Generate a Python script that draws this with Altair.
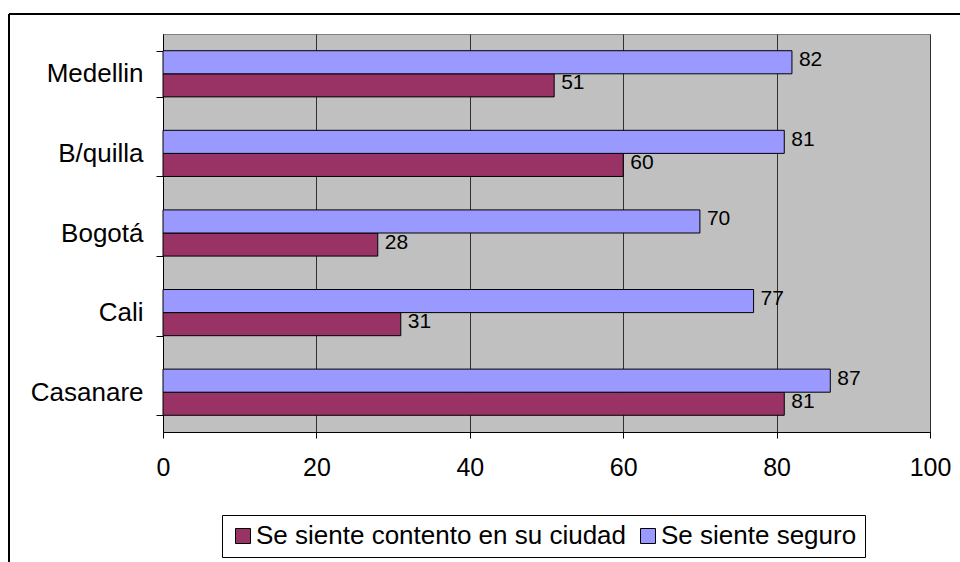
import altair as alt
import pandas as pd

cities = ["Medellin", "B/quilla", "Bogotá", "Cali", "Casanare"]
contento = [51, 60, 28, 31, 81]
seguro = [82, 81, 70, 77, 87]
series_names = ["Se siente contento en su ciudad", "Se siente seguro"]
x_ticks = [0, 20, 40, 60, 80, 100]

rows = []
for c, a, b in zip(cities, contento, seguro):
    rows.append({"ciudad": c, "serie": series_names[0], "valor": a})
    rows.append({"ciudad": c, "serie": series_names[1], "valor": b})
df = pd.DataFrame(rows)

FONT = "Liberation Sans"

y_enc = alt.Y(
    "ciudad:N",
    sort=cities,
    title=None,
    scale=alt.Scale(paddingInner=0.42, paddingOuter=0.21),
    axis=alt.Axis(
        tickBand="extent",
        tickSize=7,
        tickColor="black",
        domainColor="black",
        labelFontSize=26,
        labelFont=FONT,
        labelColor="black",
        labelPadding=13,
        grid=False,
    ),
)
x_enc = alt.X(
    "valor:Q",
    title=None,
    scale=alt.Scale(domain=[0, 100], nice=False),
    axis=alt.Axis(
        values=x_ticks,
        tickSize=6,
        tickColor="black",
        domainColor="black",
        labelFontSize=25,
        labelFont=FONT,
        labelColor="black",
        labelPadding=17,
        labelFlush=False,
        grid=True,
        gridColor="#303030",
        gridWidth=1,
    ),
)
yoff = alt.YOffset(
    "serie:N",
    sort=[series_names[1], series_names[0]],
    scale=alt.Scale(paddingInner=0, paddingOuter=0),
)
color = alt.Color(
    "serie:N",
    scale=alt.Scale(domain=series_names, range=["#993366", "#9999FF"]),
    legend=alt.Legend(
        title=None,
        orient="none",
        legendX=59,
        legendY=481,
        direction="horizontal",
        fillColor="white",
        strokeColor="black",
        padding=8,
        labelFontSize=26,
        labelFont=FONT,
        labelColor="black",
        symbolType="square",
        symbolSize=225,
        symbolStrokeColor="black",
        symbolStrokeWidth=1,
        symbolOpacity=1,
        columnPadding=8,
        labelOffset=0,
        labelLimit=0,
    ),
)

bars = alt.Chart(df).mark_bar(stroke="black", strokeWidth=1, opacity=1).encode(
    x=x_enc, y=y_enc, yOffset=yoff, color=color
)
labels = alt.Chart(df).mark_text(
    align="left", baseline="middle", dx=7, dy=-2, fontSize=21, font=FONT, color="black"
).encode(
    x="valor:Q",
    y=alt.Y("ciudad:N", sort=cities),
    yOffset=alt.YOffset("serie:N", sort=[series_names[1], series_names[0]]),
    text="valor:Q",
)
frame_top = alt.Chart(df).mark_rule(color="black", strokeWidth=2).encode(
    x=alt.value(-154), x2=alt.value(900), y=alt.value(-20)
)
frame_left = alt.Chart(df).mark_rule(color="black", strokeWidth=2).encode(
    x=alt.value(-154), y=alt.value(-20), y2=alt.value(600)
)

chart = (
    alt.layer(frame_top, frame_left, bars, labels)
    .properties(
        width=767,
        height=398,
        autosize=alt.AutoSizeParams(type="none"),
        padding={"left": 163, "top": 34, "right": 30, "bottom": 130},
        background="white",
    )
    .configure_view(fill="#C0C0C0", stroke="#808080", strokeWidth=1)
)

chart.save("out.html", embed_options={"renderer": "svg", "actions": False})
